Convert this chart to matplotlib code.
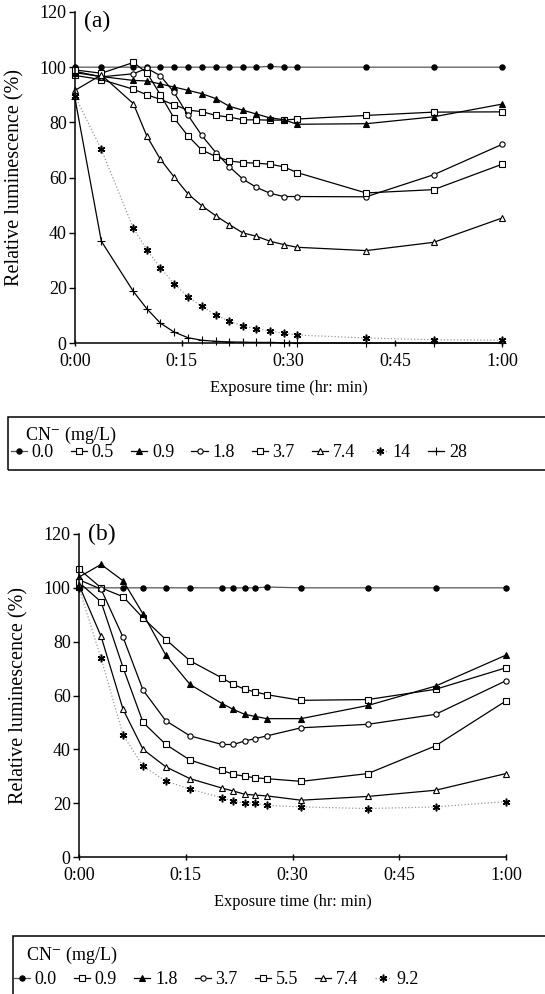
import matplotlib
matplotlib.use("Agg")
import matplotlib.pyplot as plt
from matplotlib.patches import Rectangle

plt.rcParams['font.family'] = ['Liberation Serif', 'DejaVu Serif']
plt.rcParams['mathtext.fontset'] = 'stix'

# ---- panel (a) data: minutes of exposure, relative luminescence (%)
time_a = [0, 3.7, 8.2, 10.1, 12, 13.9, 15.9, 17.8, 19.8, 21.7, 23.6, 25.5, 27.4, 29.3, 31.2, 40.9, 50.4, 60]
a_00 = [100, 100, 100, 100, 100, 100, 100, 100, 100, 100, 100, 100, 100.3, 100, 100, 100, 100, 100]
a_05 = [97, 95.5, 92, 90, 88.3, 86.4, 84.4, 83.9, 82.5, 81.9, 80.9, 80.9, 80.8, 80.8, 81.2, 82.5, 83.7, 83.8]
a_09 = [98, 96.6, 95.2, 95, 93.9, 92.8, 91.6, 90.4, 88.6, 85.8, 84.4, 83, 81.6, 81, 79.3, 79.5, 82, 86.6]
a_18 = [98.5, 96.5, 97.6, 99.6, 96.9, 90.9, 82.5, 75.3, 69, 63.9, 59.4, 56.4, 54.3, 53.1, 53.1, 53, 61, 72]
a_37 = [99, 97.8, 101.7, 98, 90, 81.6, 75, 70, 67.6, 66, 65.4, 65.2, 64.8, 63.9, 61.8, 54.4, 55.6, 64.8]
a_74 = [91.6, 97.2, 86.8, 75, 66.6, 60.3, 54, 49.8, 46.1, 42.9, 39.9, 38.7, 36.9, 35.7, 34.7, 33.5, 36.5, 45.3]
a_14 = [89.5, 70.2, 41.6, 33.8, 27.3, 21.5, 16.7, 13.3, 10.1, 7.9, 6.2, 5.2, 4.4, 3.5, 2.9, 1.8, 1.2, 1]
a_28 = [88.6, 36.9, 18.7, 12.4, 7.2, 4, 1.9, 1, 0.6, 0.4, 0.3, 0.2, 0.2, 0.1, 0, 0, 0, 0]
labels_a = ['0.0', '0.5', '0.9', '1.8', '3.7', '7.4', '14', '28']

# ---- panel (b) data
time_b = [0, 3.1, 6.2, 9.0, 12.2, 15.6, 20.1, 21.7, 23.3, 24.8, 26.4, 31.2, 40.6, 50.1, 60]
b_00 = [100, 100, 100, 100, 100, 100, 100, 100, 100, 100, 100.3, 100, 100, 100, 100]
b_09 = [107, 100, 96.7, 88.8, 80.8, 72.9, 66.5, 64.1, 62.3, 61.3, 60.3, 58.2, 58.5, 62.3, 70.3]
b_18 = [104, 108.7, 102.6, 90.3, 75, 64.1, 57, 54.8, 53, 52.2, 51.4, 51.4, 56.3, 63.5, 75]
b_37 = [103, 99.5, 81.6, 62, 50.6, 45, 41.8, 41.8, 43.1, 44, 45, 48, 49.3, 53, 65.5]
b_55 = [102, 94.8, 70.3, 50, 41.8, 36, 32.2, 30.7, 30, 29.4, 29.1, 28.1, 31, 41.3, 58]
b_74 = [101, 82, 54.8, 40, 33.5, 29.1, 25.6, 24.5, 23.3, 23, 22.7, 21.1, 22.5, 24.8, 31]
b_92 = [100, 73.8, 45.3, 33.7, 28.2, 25.2, 22, 20.7, 20.1, 19.9, 19.2, 18.6, 18, 18.6, 20.6]
labels_b = ['0.0', '0.9', '1.8', '3.7', '5.5', '7.4', '9.2']

xticks = [0, 15, 30, 45, 60]
xticklabels = ['0:00', '0:15', '0:30', '0:45', '1:00']
yticks = [0, 20, 40, 60, 80, 100, 120]

asterisk = (6, 2, 0)
# marker, facecolor, line colour, line style
styles_a = [('o', 'black', '#555555', '-'),
            ('s', 'white', 'black', '-'),
            ('^', 'black', 'black', '-'),
            ('o', 'white', 'black', '-'),
            ('s', 'white', 'black', '-'),
            ('^', 'white', 'black', '-'),
            (asterisk, 'black', '#999999', ':'),
            ('+', 'black', 'black', '-')]
styles_b = styles_a[:7]

W, H = 545, 994
fig = plt.figure(figsize=(W / 100, H / 100), dpi=100)


def fx(px):
    return px / W


def fy(py):
    return 1 - py / H


def draw(ax, t, series, labels, styles, tag, tag_y):
    handles = []
    for y, lab, (m, fc, lc, ls) in zip(series, labels, styles):
        if m == '+':
            ms, mew = 5.5, 0.8
        elif m == asterisk:
            ms, mew = 5.5, 1.1
        else:
            ms, mew = 3.8, 0.8
        h, = ax.plot(t, y, color=lc, linestyle=ls, linewidth=0.9,
                     marker=m, markersize=ms, markerfacecolor=fc,
                     markeredgecolor='black', markeredgewidth=mew,
                     label=lab, clip_on=False)
        handles.append(h)
    ax.set_xlim(0, 60)
    ax.set_ylim(0, 120)
    ax.set_xticks(xticks)
    ax.set_xticklabels(xticklabels)
    ax.set_yticks(yticks)
    for s in ['top', 'right']:
        ax.spines[s].set_visible(False)
    for s in ['left', 'bottom']:
        ax.spines[s].set_linewidth(1.1)
    ax.tick_params(axis='y', direction='out', length=4, width=1, labelsize=13, pad=2)
    ax.tick_params(axis='x', direction='inout', length=5, width=1, labelsize=13, pad=5)
    ax.set_xlabel('Exposure time (hr: min)', fontsize=11.8, labelpad=7)
    ax.set_ylabel('Relative luminescence (%)', fontsize=14.5)
    ax.yaxis.set_label_coords(-0.118, 0.5)
    ax.text(1.3, tag_y, tag, fontsize=17, va='center', ha='left')
    return handles


ax_a = fig.add_axes([fx(75), fy(343), fx(502) - fx(75), fy(12) - fy(343)])
h_a = draw(ax_a, time_a, [a_00, a_05, a_09, a_18, a_37, a_74, a_14, a_28],
           labels_a, styles_a, '(a)', 116.5)

ax_b = fig.add_axes([fx(79), fy(857), fx(506) - fx(79), fy(534) - fy(857)])
h_b = draw(ax_b, time_b, [b_00, b_09, b_18, b_37, b_55, b_74, b_92],
           labels_b, styles_b, '(b)', 120)

legend_kw = dict(loc='center left', frameon=False, fontsize=13,
                 handlelength=0.9, handletextpad=0.25, columnspacing=0.95,
                 borderpad=0, borderaxespad=0)

fig.legend(h_a, labels_a, ncol=8, bbox_to_anchor=(fx(11), fy(453)), **legend_kw)
fig.text(fx(25), fy(435), 'CN$^{-}$ (mg/L)', fontsize=13, va='center')
fig.patches.append(Rectangle((fx(8), fy(470)), fx(548) - fx(8), fy(417) - fy(470),
                             transform=fig.transFigure, fill=False,
                             edgecolor='black', linewidth=1.1))

fig.legend(h_b, labels_b, ncol=7, bbox_to_anchor=(fx(14), fy(980)), **legend_kw)
fig.text(fx(26), fy(955), 'CN$^{-}$ (mg/L)', fontsize=13, va='center')
fig.patches.append(Rectangle((fx(13), fy(1004)), fx(550) - fx(13), fy(936) - fy(1004),
                             transform=fig.transFigure, fill=False,
                             edgecolor='black', linewidth=1.1))

fig.savefig('out.png', dpi=100)
